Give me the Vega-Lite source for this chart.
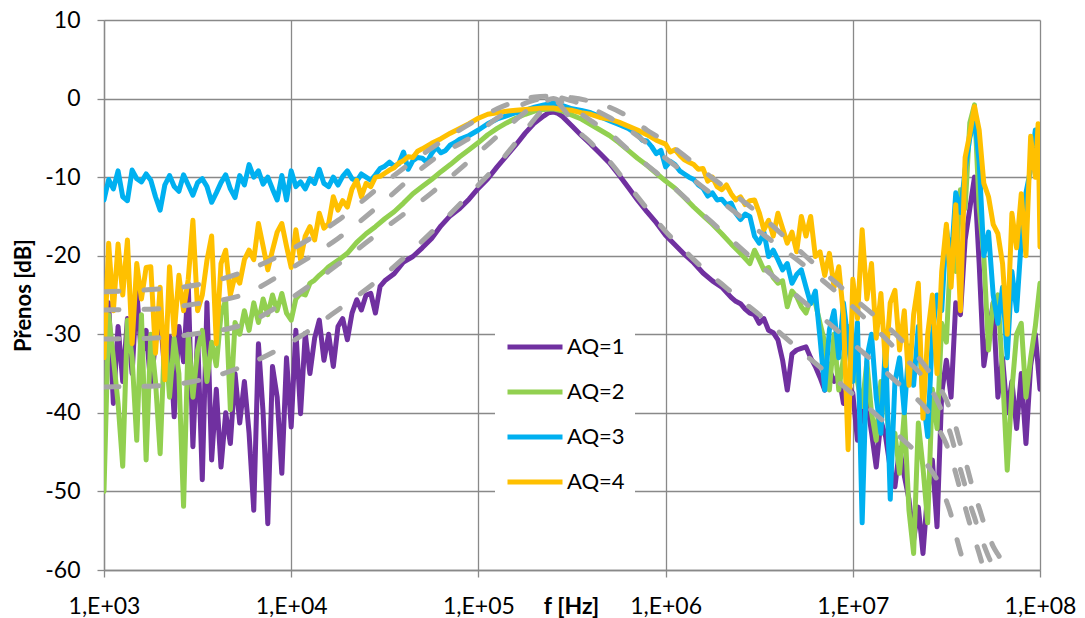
{
"$schema": "https://vega.github.io/schema/vega-lite/v6.json",
"width": 936, "height": 550,
"autosize": {"type": "none"},
"padding": {"left": 104, "top": 20, "right": 45, "bottom": 48},
"background": "white",
"config": {"view": {"stroke": null}, "font": "Lato"},
"datasets": {
"aq1": [{"f":1e3,"db":-33},{"f":1.059e3,"db":-26},{"f":1.122e3,"db":-38.8},{"f":1.189e3,"db":-29},{"f":1.259e3,"db":-36},{"f":1.334e3,"db":-28},{"f":1.413e3,"db":-35},{"f":1.496e3,"db":-24.4},{"f":1.585e3,"db":-33},{"f":1.679e3,"db":-29.5},{"f":1.778e3,"db":-36.5},{"f":1.884e3,"db":-31},{"f":1.995e3,"db":-27.5},{"f":2.113e3,"db":-35},{"f":2.239e3,"db":-30.3},{"f":2.371e3,"db":-40.5},{"f":2.512e3,"db":-29},{"f":2.661e3,"db":-33.5},{"f":2.818e3,"db":-23.5},{"f":2.985e3,"db":-44.3},{"f":3.162e3,"db":-30},{"f":3.35e3,"db":-48.5},{"f":3.548e3,"db":-26},{"f":3.758e3,"db":-46},{"f":3.981e3,"db":-37},{"f":4.217e3,"db":-46.9},{"f":4.467e3,"db":-40},{"f":4.732e3,"db":-43.9},{"f":5.012e3,"db":-35},{"f":5.309e3,"db":-41.3},{"f":5.623e3,"db":-36},{"f":5.957e3,"db":-42.6},{"f":6.31e3,"db":-52.4},{"f":6.683e3,"db":-31.2},{"f":7.079e3,"db":-40},{"f":7.499e3,"db":-54.1},{"f":7.943e3,"db":-34.1},{"f":8.414e3,"db":-38},{"f":8.913e3,"db":-47.7},{"f":9.441e3,"db":-33},{"f":1e4,"db":-41.8},{"f":1.059e4,"db":-29.5},{"f":1.122e4,"db":-40.1},{"f":1.189e4,"db":-29.9},{"f":1.259e4,"db":-35},{"f":1.334e4,"db":-30.5},{"f":1.413e4,"db":-28.2},{"f":1.496e4,"db":-33.3},{"f":1.585e4,"db":-30},{"f":1.679e4,"db":-34.1},{"f":1.778e4,"db":-29},{"f":1.884e4,"db":-28},{"f":1.995e4,"db":-30.7},{"f":2.113e4,"db":-27.3},{"f":2.239e4,"db":-25.6},{"f":2.371e4,"db":-26.9},{"f":2.512e4,"db":-25},{"f":2.661e4,"db":-24.8},{"f":2.818e4,"db":-27.3},{"f":2.985e4,"db":-23.9},{"f":3.162e4,"db":-23.2},{"f":3.548e4,"db":-22.3},{"f":3.981e4,"db":-20.8},{"f":4.467e4,"db":-20.1},{"f":5.012e4,"db":-19},{"f":5.623e4,"db":-17.8},{"f":6.31e4,"db":-16.2},{"f":7.079e4,"db":-14.9},{"f":7.943e4,"db":-14},{"f":8.913e4,"db":-12.8},{"f":1e5,"db":-11.4},{"f":1.122e5,"db":-10.2},{"f":1.259e5,"db":-8.7},{"f":1.413e5,"db":-7.3},{"f":1.585e5,"db":-5.9},{"f":1.778e5,"db":-4.4},{"f":1.995e5,"db":-3.1},{"f":2.239e5,"db":-2.2},{"f":2.371e5,"db":-1.8},{"f":2.512e5,"db":-1.7},{"f":2.661e5,"db":-1.9},{"f":2.818e5,"db":-2.3},{"f":3.162e5,"db":-3.5},{"f":3.548e5,"db":-4.7},{"f":3.981e5,"db":-5.8},{"f":4.467e5,"db":-7},{"f":5.012e5,"db":-8.2},{"f":5.623e5,"db":-9.7},{"f":6.31e5,"db":-11.3},{"f":7.079e5,"db":-12.9},{"f":7.943e5,"db":-14.4},{"f":8.913e5,"db":-15.8},{"f":1e6,"db":-17.4},{"f":1.122e6,"db":-18.6},{"f":1.259e6,"db":-19.8},{"f":1.413e6,"db":-20.9},{"f":1.585e6,"db":-22.2},{"f":1.778e6,"db":-23.2},{"f":1.995e6,"db":-24},{"f":2.239e6,"db":-25.3},{"f":2.371e6,"db":-25.8},{"f":2.512e6,"db":-26.1},{"f":2.661e6,"db":-26.8},{"f":2.818e6,"db":-27.3},{"f":2.985e6,"db":-27.5},{"f":3.162e6,"db":-28.6},{"f":3.35e6,"db":-28},{"f":3.548e6,"db":-29.5},{"f":3.758e6,"db":-29.8},{"f":3.981e6,"db":-30.7},{"f":4.217e6,"db":-33.3},{"f":4.467e6,"db":-37.1},{"f":4.732e6,"db":-32.5},{"f":5.012e6,"db":-32},{"f":5.309e6,"db":-31.8},{"f":5.623e6,"db":-31.6},{"f":5.957e6,"db":-33},{"f":6.31e6,"db":-34.1},{"f":6.683e6,"db":-35.5},{"f":7.079e6,"db":-37.1},{"f":7.499e6,"db":-34.5},{"f":7.943e6,"db":-36},{"f":8.414e6,"db":-35.2},{"f":8.913e6,"db":-38.8},{"f":9.441e6,"db":-36.5},{"f":1e7,"db":-37.5},{"f":1.059e7,"db":-43.5},{"f":1.122e7,"db":-40},{"f":1.189e7,"db":-38.5},{"f":1.259e7,"db":-42.5},{"f":1.334e7,"db":-46.9},{"f":1.413e7,"db":-41},{"f":1.496e7,"db":-43},{"f":1.585e7,"db":-47},{"f":1.679e7,"db":-49.4},{"f":1.778e7,"db":-44.5},{"f":1.884e7,"db":-48},{"f":1.995e7,"db":-51},{"f":2.113e7,"db":-56.2},{"f":2.239e7,"db":-52},{"f":2.371e7,"db":-57.9},{"f":2.512e7,"db":-50},{"f":2.661e7,"db":-46},{"f":2.818e7,"db":-54.5},{"f":2.985e7,"db":-37.5},{"f":3.162e7,"db":-33.3},{"f":3.35e7,"db":-38},{"f":3.548e7,"db":-26},{"f":3.758e7,"db":-27.5},{"f":3.981e7,"db":-18},{"f":4.217e7,"db":-14},{"f":4.467e7,"db":-10},{"f":4.732e7,"db":-21},{"f":5.012e7,"db":-34},{"f":5.309e7,"db":-30},{"f":5.623e7,"db":-26},{"f":5.957e7,"db":-38},{"f":6.31e7,"db":-33},{"f":6.683e7,"db":-40},{"f":7.079e7,"db":-36},{"f":7.499e7,"db":-42},{"f":7.943e7,"db":-35},{"f":8.414e7,"db":-43.9},{"f":8.913e7,"db":-34},{"f":9.441e7,"db":-30},{"f":1e8,"db":-37}],
"aq2": [{"f":1e3,"db":-50},{"f":1.059e3,"db":-27.5},{"f":1.122e3,"db":-33},{"f":1.189e3,"db":-38.8},{"f":1.259e3,"db":-46.8},{"f":1.334e3,"db":-28.2},{"f":1.413e3,"db":-33},{"f":1.496e3,"db":-43.5},{"f":1.585e3,"db":-27.5},{"f":1.679e3,"db":-46},{"f":1.778e3,"db":-30},{"f":1.884e3,"db":-36},{"f":1.995e3,"db":-45.2},{"f":2.113e3,"db":-29.5},{"f":2.239e3,"db":-38},{"f":2.371e3,"db":-30.5},{"f":2.512e3,"db":-35},{"f":2.661e3,"db":-51.9},{"f":2.818e3,"db":-30},{"f":2.985e3,"db":-38},{"f":3.162e3,"db":-32},{"f":3.35e3,"db":-29.5},{"f":3.548e3,"db":-36},{"f":3.758e3,"db":-31},{"f":3.981e3,"db":-34},{"f":4.217e3,"db":-27.5},{"f":4.467e3,"db":-25.6},{"f":4.732e3,"db":-39.6},{"f":5.012e3,"db":-28.5},{"f":5.309e3,"db":-30},{"f":5.623e3,"db":-27},{"f":5.957e3,"db":-29.5},{"f":6.31e3,"db":-26},{"f":6.683e3,"db":-28.5},{"f":7.079e3,"db":-25.5},{"f":7.499e3,"db":-27.5},{"f":7.943e3,"db":-25},{"f":8.414e3,"db":-27},{"f":8.913e3,"db":-24.8},{"f":9.441e3,"db":-27.3},{"f":1e4,"db":-28.2},{"f":1.059e4,"db":-25.5},{"f":1.122e4,"db":-24.8},{"f":1.189e4,"db":-25},{"f":1.259e4,"db":-23.5},{"f":1.334e4,"db":-23.1},{"f":1.413e4,"db":-22.5},{"f":1.496e4,"db":-22},{"f":1.585e4,"db":-21.4},{"f":1.778e4,"db":-20.6},{"f":1.995e4,"db":-19.7},{"f":2.239e4,"db":-18.3},{"f":2.512e4,"db":-17.2},{"f":2.818e4,"db":-16.3},{"f":3.162e4,"db":-15.3},{"f":3.548e4,"db":-14.4},{"f":3.981e4,"db":-13.3},{"f":4.467e4,"db":-12.1},{"f":5.012e4,"db":-11.2},{"f":5.623e4,"db":-10.3},{"f":6.31e4,"db":-9.3},{"f":7.079e4,"db":-8.4},{"f":7.943e4,"db":-7.4},{"f":8.913e4,"db":-6.5},{"f":1e5,"db":-5.6},{"f":1.122e5,"db":-4.6},{"f":1.259e5,"db":-3.8},{"f":1.413e5,"db":-3.1},{"f":1.585e5,"db":-2.5},{"f":1.778e5,"db":-2},{"f":1.995e5,"db":-1.6},{"f":2.239e5,"db":-1.4},{"f":2.512e5,"db":-1.3},{"f":2.818e5,"db":-1.6},{"f":3.162e5,"db":-2.1},{"f":3.548e5,"db":-2.6},{"f":3.981e5,"db":-3.3},{"f":4.467e5,"db":-4},{"f":5.012e5,"db":-4.7},{"f":5.623e5,"db":-5.6},{"f":6.31e5,"db":-6.6},{"f":7.079e5,"db":-7.6},{"f":7.943e5,"db":-8.5},{"f":8.913e5,"db":-9.5},{"f":1e6,"db":-10.5},{"f":1.122e6,"db":-11.4},{"f":1.259e6,"db":-12.6},{"f":1.413e6,"db":-13.8},{"f":1.585e6,"db":-14.9},{"f":1.778e6,"db":-16},{"f":1.995e6,"db":-17.2},{"f":2.239e6,"db":-18.5},{"f":2.512e6,"db":-19.7},{"f":2.818e6,"db":-21},{"f":2.985e6,"db":-19.3},{"f":3.162e6,"db":-20.5},{"f":3.35e6,"db":-21.8},{"f":3.548e6,"db":-21.5},{"f":3.758e6,"db":-22.8},{"f":3.981e6,"db":-23.5},{"f":4.217e6,"db":-23.2},{"f":4.467e6,"db":-26.5},{"f":4.732e6,"db":-24.5},{"f":5.012e6,"db":-25.2},{"f":5.309e6,"db":-26.5},{"f":5.623e6,"db":-27.3},{"f":5.957e6,"db":-25.5},{"f":6.31e6,"db":-26},{"f":6.683e6,"db":-28.6},{"f":7.079e6,"db":-31},{"f":7.499e6,"db":-37.1},{"f":7.943e6,"db":-30},{"f":8.414e6,"db":-37.1},{"f":8.913e6,"db":-33},{"f":9.441e6,"db":-29},{"f":1e7,"db":-32.8},{"f":1.059e7,"db":-36},{"f":1.122e7,"db":-39.2},{"f":1.189e7,"db":-33.5},{"f":1.259e7,"db":-40},{"f":1.334e7,"db":-43.5},{"f":1.413e7,"db":-36},{"f":1.496e7,"db":-38.5},{"f":1.585e7,"db":-44},{"f":1.679e7,"db":-42.6},{"f":1.778e7,"db":-47.7},{"f":1.884e7,"db":-40},{"f":1.995e7,"db":-52.4},{"f":2.113e7,"db":-57.9},{"f":2.239e7,"db":-41.3},{"f":2.371e7,"db":-47},{"f":2.512e7,"db":-54},{"f":2.661e7,"db":-37},{"f":2.818e7,"db":-42},{"f":2.985e7,"db":-28.6},{"f":3.162e7,"db":-31},{"f":3.35e7,"db":-18},{"f":3.548e7,"db":-22},{"f":3.758e7,"db":-11.6},{"f":3.981e7,"db":-14},{"f":4.217e7,"db":-3.1},{"f":4.467e7,"db":-0.8},{"f":4.732e7,"db":-13.8},{"f":5.012e7,"db":-20.1},{"f":5.309e7,"db":-32},{"f":5.623e7,"db":-26},{"f":5.957e7,"db":-25},{"f":6.31e7,"db":-35},{"f":6.683e7,"db":-47.3},{"f":7.079e7,"db":-37.1},{"f":7.499e7,"db":-30},{"f":7.943e7,"db":-28.6},{"f":8.414e7,"db":-38},{"f":8.913e7,"db":-33},{"f":9.441e7,"db":-29},{"f":1e8,"db":-23.5}],
"aq3": [{"f":1e3,"db":-12.9},{"f":1.059e3,"db":-10.3},{"f":1.122e3,"db":-11.5},{"f":1.189e3,"db":-9.2},{"f":1.259e3,"db":-12.5},{"f":1.334e3,"db":-13},{"f":1.413e3,"db":-9.1},{"f":1.496e3,"db":-10.2},{"f":1.585e3,"db":-10.6},{"f":1.679e3,"db":-9.6},{"f":1.778e3,"db":-10.4},{"f":1.884e3,"db":-12.5},{"f":1.995e3,"db":-14.2},{"f":2.113e3,"db":-11},{"f":2.239e3,"db":-9.8},{"f":2.371e3,"db":-11.2},{"f":2.512e3,"db":-11.8},{"f":2.661e3,"db":-9.7},{"f":2.818e3,"db":-11},{"f":2.985e3,"db":-12.3},{"f":3.162e3,"db":-10.7},{"f":3.35e3,"db":-10.2},{"f":3.548e3,"db":-11.2},{"f":3.758e3,"db":-13.2},{"f":3.981e3,"db":-12},{"f":4.217e3,"db":-10.7},{"f":4.467e3,"db":-9.7},{"f":4.732e3,"db":-11.5},{"f":5.012e3,"db":-12.6},{"f":5.309e3,"db":-9.8},{"f":5.623e3,"db":-11},{"f":5.957e3,"db":-8.4},{"f":6.31e3,"db":-10},{"f":6.683e3,"db":-9.2},{"f":7.079e3,"db":-10.9},{"f":7.499e3,"db":-10},{"f":7.943e3,"db":-11.5},{"f":8.414e3,"db":-12.9},{"f":8.913e3,"db":-9.8},{"f":9.441e3,"db":-12.9},{"f":1e4,"db":-9.2},{"f":1.059e4,"db":-11.2},{"f":1.122e4,"db":-10.6},{"f":1.189e4,"db":-11.5},{"f":1.259e4,"db":-10.2},{"f":1.334e4,"db":-10.8},{"f":1.413e4,"db":-9},{"f":1.496e4,"db":-10.8},{"f":1.585e4,"db":-11.2},{"f":1.679e4,"db":-10},{"f":1.778e4,"db":-11},{"f":1.884e4,"db":-9.9},{"f":1.995e4,"db":-9.2},{"f":2.113e4,"db":-10.2},{"f":2.239e4,"db":-10.5},{"f":2.371e4,"db":-9.6},{"f":2.512e4,"db":-10},{"f":2.661e4,"db":-10.4},{"f":2.818e4,"db":-9.7},{"f":2.985e4,"db":-8.9},{"f":3.162e4,"db":-8.6},{"f":3.35e4,"db":-8.1},{"f":3.548e4,"db":-8.6},{"f":3.758e4,"db":-8.3},{"f":3.981e4,"db":-6.8},{"f":4.217e4,"db":-9},{"f":4.467e4,"db":-7.9},{"f":4.732e4,"db":-7.5},{"f":5.012e4,"db":-7.6},{"f":5.309e4,"db":-8.1},{"f":5.623e4,"db":-7},{"f":5.957e4,"db":-6.2},{"f":6.31e4,"db":-6.9},{"f":6.683e4,"db":-6.6},{"f":7.079e4,"db":-5.9},{"f":7.499e4,"db":-5.6},{"f":7.943e4,"db":-5.2},{"f":8.913e4,"db":-4.7},{"f":1e5,"db":-4},{"f":1.122e5,"db":-3.2},{"f":1.259e5,"db":-2.6},{"f":1.413e5,"db":-2.2},{"f":1.585e5,"db":-1.8},{"f":1.778e5,"db":-1.5},{"f":1.995e5,"db":-1.1},{"f":2.239e5,"db":-0.8},{"f":2.512e5,"db":-0.6},{"f":2.818e5,"db":-0.9},{"f":3.162e5,"db":-1.3},{"f":3.548e5,"db":-1.5},{"f":3.981e5,"db":-1.8},{"f":4.467e5,"db":-2.3},{"f":5.012e5,"db":-2.8},{"f":5.623e5,"db":-3.3},{"f":6.31e5,"db":-3.8},{"f":7.079e5,"db":-4.6},{"f":7.499e5,"db":-5.3},{"f":7.943e5,"db":-5.4},{"f":8.414e5,"db":-6.1},{"f":8.913e5,"db":-7},{"f":9.441e5,"db":-6.6},{"f":1e6,"db":-8.7},{"f":1.059e6,"db":-8},{"f":1.122e6,"db":-8.4},{"f":1.189e6,"db":-9.2},{"f":1.259e6,"db":-9.6},{"f":1.334e6,"db":-10},{"f":1.413e6,"db":-10.3},{"f":1.496e6,"db":-11},{"f":1.585e6,"db":-11.4},{"f":1.679e6,"db":-12.4},{"f":1.778e6,"db":-12},{"f":1.884e6,"db":-12.9},{"f":1.995e6,"db":-12.8},{"f":2.113e6,"db":-13.5},{"f":2.239e6,"db":-13.3},{"f":2.371e6,"db":-14.6},{"f":2.512e6,"db":-15.4},{"f":2.661e6,"db":-14.7},{"f":2.818e6,"db":-15},{"f":2.985e6,"db":-17.5},{"f":3.162e6,"db":-18.4},{"f":3.35e6,"db":-17},{"f":3.548e6,"db":-20.1},{"f":3.758e6,"db":-19.3},{"f":3.981e6,"db":-20.5},{"f":4.217e6,"db":-21.8},{"f":4.467e6,"db":-21},{"f":4.732e6,"db":-23.5},{"f":5.012e6,"db":-22.4},{"f":5.309e6,"db":-21.8},{"f":5.623e6,"db":-24},{"f":5.957e6,"db":-26.1},{"f":6.31e6,"db":-24.5},{"f":6.683e6,"db":-30.5},{"f":7.079e6,"db":-37.1},{"f":7.499e6,"db":-29.4},{"f":7.943e6,"db":-27},{"f":8.414e6,"db":-33},{"f":8.913e6,"db":-26},{"f":9.441e6,"db":-31},{"f":1e7,"db":-36},{"f":1.059e7,"db":-28.5},{"f":1.122e7,"db":-54},{"f":1.189e7,"db":-33},{"f":1.259e7,"db":-30},{"f":1.334e7,"db":-38},{"f":1.413e7,"db":-42.6},{"f":1.496e7,"db":-31},{"f":1.585e7,"db":-51},{"f":1.679e7,"db":-36},{"f":1.778e7,"db":-33},{"f":1.884e7,"db":-40},{"f":1.995e7,"db":-31.5},{"f":2.113e7,"db":-36.5},{"f":2.239e7,"db":-29},{"f":2.371e7,"db":-38},{"f":2.512e7,"db":-43},{"f":2.661e7,"db":-30},{"f":2.818e7,"db":-25},{"f":2.985e7,"db":-27},{"f":3.162e7,"db":-16.5},{"f":3.35e7,"db":-21},{"f":3.548e7,"db":-12},{"f":3.758e7,"db":-14.5},{"f":3.981e7,"db":-9},{"f":4.217e7,"db":-5},{"f":4.467e7,"db":-2.5},{"f":4.732e7,"db":-8},{"f":5.012e7,"db":-20},{"f":5.309e7,"db":-17},{"f":5.623e7,"db":-25},{"f":5.957e7,"db":-28.6},{"f":6.31e7,"db":-24},{"f":6.683e7,"db":-33},{"f":7.079e7,"db":-22},{"f":7.499e7,"db":-27},{"f":7.943e7,"db":-18},{"f":8.414e7,"db":-12},{"f":8.913e7,"db":-9},{"f":9.441e7,"db":-4},{"f":1e8,"db":-8.5}],
"aq4": [{"f":1e3,"db":-33},{"f":1.059e3,"db":-18.4},{"f":1.122e3,"db":-27},{"f":1.189e3,"db":-18.5},{"f":1.259e3,"db":-25},{"f":1.334e3,"db":-18},{"f":1.413e3,"db":-31.2},{"f":1.496e3,"db":-21},{"f":1.585e3,"db":-25.5},{"f":1.679e3,"db":-21.5},{"f":1.778e3,"db":-21.4},{"f":1.884e3,"db":-32.4},{"f":1.995e3,"db":-24},{"f":2.113e3,"db":-35.8},{"f":2.239e3,"db":-21.4},{"f":2.371e3,"db":-30},{"f":2.512e3,"db":-22.5},{"f":2.661e3,"db":-27},{"f":2.818e3,"db":-23},{"f":2.985e3,"db":-15.5},{"f":3.162e3,"db":-27},{"f":3.35e3,"db":-25},{"f":3.548e3,"db":-20.6},{"f":3.758e3,"db":-17.5},{"f":3.981e3,"db":-31.2},{"f":4.217e3,"db":-21},{"f":4.467e3,"db":-19.3},{"f":4.732e3,"db":-25},{"f":5.012e3,"db":-22.5},{"f":5.309e3,"db":-23.5},{"f":5.623e3,"db":-20.5},{"f":5.957e3,"db":-19.3},{"f":6.31e3,"db":-20.5},{"f":6.683e3,"db":-15.9},{"f":7.079e3,"db":-18.8},{"f":7.499e3,"db":-21.8},{"f":7.943e3,"db":-19.3},{"f":8.414e3,"db":-17},{"f":8.913e3,"db":-15.9},{"f":9.441e3,"db":-18.8},{"f":1e4,"db":-21.5},{"f":1.059e4,"db":-16.7},{"f":1.122e4,"db":-20.5},{"f":1.189e4,"db":-17.5},{"f":1.259e4,"db":-16.3},{"f":1.334e4,"db":-18},{"f":1.413e4,"db":-14.6},{"f":1.496e4,"db":-16.5},{"f":1.585e4,"db":-15.9},{"f":1.679e4,"db":-12.5},{"f":1.778e4,"db":-14.2},{"f":1.884e4,"db":-13},{"f":1.995e4,"db":-13.8},{"f":2.113e4,"db":-11.5},{"f":2.239e4,"db":-10.4},{"f":2.371e4,"db":-12.5},{"f":2.512e4,"db":-10.8},{"f":2.661e4,"db":-11.2},{"f":2.818e4,"db":-10},{"f":2.985e4,"db":-9.9},{"f":3.162e4,"db":-9.5},{"f":3.35e4,"db":-9.1},{"f":3.548e4,"db":-8.8},{"f":3.758e4,"db":-8.2},{"f":3.981e4,"db":-7.9},{"f":4.217e4,"db":-7.4},{"f":4.467e4,"db":-7.5},{"f":4.732e4,"db":-6.7},{"f":5.012e4,"db":-6.4},{"f":5.623e4,"db":-5.7},{"f":6.31e4,"db":-5.1},{"f":7.079e4,"db":-4.4},{"f":7.943e4,"db":-3.8},{"f":8.913e4,"db":-3.2},{"f":1e5,"db":-2.5},{"f":1.122e5,"db":-2},{"f":1.259e5,"db":-1.8},{"f":1.413e5,"db":-1.6},{"f":1.585e5,"db":-1.5},{"f":1.778e5,"db":-1.4},{"f":1.995e5,"db":-1.3},{"f":2.239e5,"db":-1.2},{"f":2.512e5,"db":-1.2},{"f":2.818e5,"db":-1.4},{"f":3.162e5,"db":-1.5},{"f":3.548e5,"db":-1.8},{"f":3.981e5,"db":-2},{"f":4.467e5,"db":-2.4},{"f":5.012e5,"db":-2.6},{"f":5.623e5,"db":-3},{"f":6.31e5,"db":-3.5},{"f":7.079e5,"db":-4},{"f":7.943e5,"db":-4.6},{"f":8.913e5,"db":-5.3},{"f":1e6,"db":-5.8},{"f":1.059e6,"db":-6.8},{"f":1.122e6,"db":-6.5},{"f":1.189e6,"db":-7.2},{"f":1.259e6,"db":-7.8},{"f":1.334e6,"db":-8.1},{"f":1.413e6,"db":-8.4},{"f":1.496e6,"db":-9},{"f":1.585e6,"db":-8.9},{"f":1.679e6,"db":-10.5},{"f":1.778e6,"db":-10},{"f":1.884e6,"db":-11.2},{"f":1.995e6,"db":-11.6},{"f":2.113e6,"db":-11},{"f":2.239e6,"db":-12.1},{"f":2.371e6,"db":-12.9},{"f":2.512e6,"db":-12.5},{"f":2.661e6,"db":-13.5},{"f":2.818e6,"db":-13},{"f":2.985e6,"db":-12.9},{"f":3.162e6,"db":-14.5},{"f":3.35e6,"db":-16.7},{"f":3.548e6,"db":-15.5},{"f":3.758e6,"db":-17.5},{"f":3.981e6,"db":-14.6},{"f":4.217e6,"db":-16.5},{"f":4.467e6,"db":-18.4},{"f":4.732e6,"db":-17},{"f":5.012e6,"db":-19.5},{"f":5.309e6,"db":-15},{"f":5.623e6,"db":-17.5},{"f":5.957e6,"db":-15},{"f":6.31e6,"db":-20.1},{"f":6.683e6,"db":-19.5},{"f":7.079e6,"db":-22.5},{"f":7.499e6,"db":-19.7},{"f":7.943e6,"db":-24},{"f":8.414e6,"db":-21.4},{"f":8.913e6,"db":-27.5},{"f":9.441e6,"db":-44.7},{"f":1e7,"db":-23},{"f":1.059e7,"db":-28},{"f":1.122e7,"db":-16.7},{"f":1.189e7,"db":-25.5},{"f":1.259e7,"db":-21},{"f":1.334e7,"db":-30.5},{"f":1.413e7,"db":-24.8},{"f":1.496e7,"db":-34},{"f":1.585e7,"db":-26},{"f":1.679e7,"db":-24.4},{"f":1.778e7,"db":-32},{"f":1.884e7,"db":-27},{"f":1.995e7,"db":-36.5},{"f":2.113e7,"db":-27.5},{"f":2.239e7,"db":-23.5},{"f":2.371e7,"db":-40.7},{"f":2.512e7,"db":-30},{"f":2.661e7,"db":-25},{"f":2.818e7,"db":-35},{"f":2.985e7,"db":-22},{"f":3.162e7,"db":-16},{"f":3.35e7,"db":-24},{"f":3.548e7,"db":-13.5},{"f":3.758e7,"db":-27},{"f":3.981e7,"db":-7.5},{"f":4.217e7,"db":-4.5},{"f":4.467e7,"db":-1},{"f":4.732e7,"db":-4},{"f":5.012e7,"db":-10.8},{"f":5.309e7,"db":-12.5},{"f":5.623e7,"db":-16},{"f":5.957e7,"db":-17.2},{"f":6.31e7,"db":-21},{"f":6.683e7,"db":-30},{"f":7.079e7,"db":-14.6},{"f":7.499e7,"db":-19},{"f":7.943e7,"db":-12.1},{"f":8.414e7,"db":-20},{"f":8.913e7,"db":-4.8},{"f":9.441e7,"db":-10},{"f":9.772e7,"db":-3.2},{"f":1e8,"db":-18.9}],
"theory": [{"c":"D1","f":1e3,"db":-36.7},{"c":"D1","f":1.778e3,"db":-36.6},{"c":"D1","f":3.162e3,"db":-35.9},{"c":"D1","f":5.623e3,"db":-34},{"c":"D1","f":1e4,"db":-31},{"c":"D1","f":1.778e4,"db":-26.9},{"c":"D1","f":3.162e4,"db":-22.4},{"c":"D1","f":5.623e4,"db":-17},{"c":"D1","f":1e5,"db":-11},{"c":"D1","f":1.259e5,"db":-8.5},{"c":"D1","f":1.585e5,"db":-5.6},{"c":"D1","f":1.778e5,"db":-4.1},{"c":"D1","f":1.995e5,"db":-2.6},{"c":"D1","f":2.239e5,"db":-1.2},{"c":"D1","f":2.371e5,"db":-0.6},{"c":"D1","f":2.512e5,"db":-0.2},{"c":"D1","f":2.661e5,"db":-0.5},{"c":"D1","f":2.818e5,"db":-1.2},{"c":"D1","f":2.985e5,"db":-2},{"c":"D1","f":3.162e5,"db":-3.1},{"c":"D1","f":3.981e5,"db":-5.6},{"c":"D1","f":5.012e5,"db":-8},{"c":"D1","f":6.31e5,"db":-11},{"c":"D1","f":7.943e5,"db":-14},{"c":"D1","f":1e6,"db":-16.9},{"c":"D1","f":1.259e6,"db":-19.3},{"c":"D1","f":1.585e6,"db":-21.6},{"c":"D1","f":1.995e6,"db":-23.6},{"c":"D1","f":2.512e6,"db":-25.6},{"c":"D1","f":3.162e6,"db":-27.5},{"c":"D1","f":3.981e6,"db":-29.6},{"c":"D1","f":5.623e6,"db":-32.7},{"c":"D1","f":1e7,"db":-37.6},{"c":"D1","f":1.259e7,"db":-39.7},{"c":"D1","f":1.778e7,"db":-43},{"c":"D1","f":2.512e7,"db":-46.7},{"c":"D1","f":2.818e7,"db":-48.5},{"c":"D1","f":3.162e7,"db":-51.2},{"c":"D1","f":3.35e7,"db":-53},{"c":"D1","f":3.548e7,"db":-55.5},{"c":"D1","f":3.758e7,"db":-57.7},{"c":"D1","f":3.981e7,"db":-59.6},{"c":"D1","f":4.217e7,"db":-61.5},
{"c":"D2","f":1e3,"db":-30.6},{"c":"D2","f":1.778e3,"db":-30.5},{"c":"D2","f":3.162e3,"db":-29.9},{"c":"D2","f":5.623e3,"db":-28.7},{"c":"D2","f":1e4,"db":-25.4},{"c":"D2","f":1.778e4,"db":-21.1},{"c":"D2","f":3.162e4,"db":-16.5},{"c":"D2","f":5.623e4,"db":-12},{"c":"D2","f":1e5,"db":-6.9},{"c":"D2","f":1.259e5,"db":-4.8},{"c":"D2","f":1.585e5,"db":-2.7},{"c":"D2","f":1.995e5,"db":-0.9},{"c":"D2","f":2.239e5,"db":-0.4},{"c":"D2","f":2.512e5,"db":0},{"c":"D2","f":2.818e5,"db":-0.5},{"c":"D2","f":3.162e5,"db":-1.2},{"c":"D2","f":3.981e5,"db":-2.8},{"c":"D2","f":5.012e5,"db":-4.4},{"c":"D2","f":6.31e5,"db":-6.5},{"c":"D2","f":1e6,"db":-10.4},{"c":"D2","f":1.778e6,"db":-15.8},{"c":"D2","f":3.162e6,"db":-21.1},{"c":"D2","f":5.623e6,"db":-26.1},{"c":"D2","f":1e7,"db":-31.2},{"c":"D2","f":1.778e7,"db":-36.4},{"c":"D2","f":2.512e7,"db":-39.8},{"c":"D2","f":2.818e7,"db":-41.7},{"c":"D2","f":3.162e7,"db":-44},{"c":"D2","f":3.35e7,"db":-45.6},{"c":"D2","f":3.548e7,"db":-47.7},{"c":"D2","f":3.758e7,"db":-49.9},{"c":"D2","f":3.981e7,"db":-52},{"c":"D2","f":4.217e7,"db":-54.1},{"c":"D2","f":4.467e7,"db":-56},{"c":"D2","f":4.732e7,"db":-57.9},{"c":"D2","f":5.012e7,"db":-59.9},{"c":"D2","f":5.309e7,"db":-61.8},
{"c":"D3","f":1e3,"db":-26.9},{"c":"D3","f":1.778e3,"db":-26.8},{"c":"D3","f":3.162e3,"db":-26.1},{"c":"D3","f":5.623e3,"db":-24.9},{"c":"D3","f":1e4,"db":-21.6},{"c":"D3","f":1.778e4,"db":-17.8},{"c":"D3","f":3.162e4,"db":-13},{"c":"D3","f":5.623e4,"db":-7.9},{"c":"D3","f":1e5,"db":-4.3},{"c":"D3","f":1.259e5,"db":-2.5},{"c":"D3","f":1.585e5,"db":-1.2},{"c":"D3","f":1.778e5,"db":-0.6},{"c":"D3","f":1.995e5,"db":-0.2},{"c":"D3","f":2.512e5,"db":0.2},{"c":"D3","f":3.162e5,"db":-0.3},{"c":"D3","f":3.981e5,"db":-1.2},{"c":"D3","f":5.012e5,"db":-2.4},{"c":"D3","f":6.31e5,"db":-3.9},{"c":"D3","f":1e6,"db":-7.6},{"c":"D3","f":1.778e6,"db":-12.2},{"c":"D3","f":3.162e6,"db":-16.9},{"c":"D3","f":5.623e6,"db":-21.4},{"c":"D3","f":1e7,"db":-26.5},{"c":"D3","f":1.778e7,"db":-32.4},{"c":"D3","f":2.512e7,"db":-36.3},{"c":"D3","f":2.818e7,"db":-38.4},{"c":"D3","f":3.162e7,"db":-41.2},{"c":"D3","f":3.35e7,"db":-42.9},{"c":"D3","f":3.548e7,"db":-45.1},{"c":"D3","f":3.758e7,"db":-47.2},{"c":"D3","f":3.981e7,"db":-49.3},{"c":"D3","f":4.217e7,"db":-51.5},{"c":"D3","f":4.467e7,"db":-53.3},{"c":"D3","f":4.732e7,"db":-55.2},{"c":"D3","f":5.012e7,"db":-56.8},{"c":"D3","f":5.309e7,"db":-58.3},{"c":"D3","f":5.623e7,"db":-59.6},{"c":"D3","f":5.957e7,"db":-61},
{"c":"D4","f":1e3,"db":-24.6},{"c":"D4","f":1.778e3,"db":-24.3},{"c":"D4","f":3.162e3,"db":-23.7},{"c":"D4","f":5.623e3,"db":-22},{"c":"D4","f":1e4,"db":-19.2},{"c":"D4","f":1.778e4,"db":-15.5},{"c":"D4","f":3.162e4,"db":-10.7},{"c":"D4","f":5.623e4,"db":-6.3},{"c":"D4","f":1e5,"db":-2.6},{"c":"D4","f":1.259e5,"db":-1.3},{"c":"D4","f":1.585e5,"db":-0.4},{"c":"D4","f":1.995e5,"db":0.2},{"c":"D4","f":2.512e5,"db":0.3},{"c":"D4","f":3.162e5,"db":0.1},{"c":"D4","f":3.981e5,"db":-0.35},{"c":"D4","f":5.012e5,"db":-1.1},{"c":"D4","f":6.31e5,"db":-2.3},{"c":"D4","f":7.943e5,"db":-4},{"c":"D4","f":1e6,"db":-5.5},{"c":"D4","f":1.778e6,"db":-10.1},{"c":"D4","f":3.162e6,"db":-14.7},{"c":"D4","f":5.623e6,"db":-20.1},{"c":"D4","f":1e7,"db":-25.3},{"c":"D4","f":1.778e7,"db":-30.5},{"c":"D4","f":2.512e7,"db":-34.5},{"c":"D4","f":2.818e7,"db":-36.3},{"c":"D4","f":3.162e7,"db":-38.4},{"c":"D4","f":3.35e7,"db":-40},{"c":"D4","f":3.548e7,"db":-41.8},{"c":"D4","f":3.758e7,"db":-44},{"c":"D4","f":3.981e7,"db":-46},{"c":"D4","f":4.217e7,"db":-48.2},{"c":"D4","f":4.467e7,"db":-50.4},{"c":"D4","f":4.732e7,"db":-52.1},{"c":"D4","f":5.012e7,"db":-54},{"c":"D4","f":5.309e7,"db":-55.5},{"c":"D4","f":5.623e7,"db":-57},{"c":"D4","f":5.957e7,"db":-58},{"c":"D4","f":6.31e7,"db":-59},{"c":"D4","f":6.683e7,"db":-60.1},{"c":"D4","f":7.079e7,"db":-61.2}]
},
"encoding": {
  "x": {"field": "f", "type": "quantitative",
    "scale": {"type": "log", "domain": [1000, 100000000], "nice": false},
    "axis": {"title": "f [Hz]", "values": [1000, 10000, 100000, 1000000, 10000000, 100000000],
      "labelExpr": "'1,E+0' + round(log(datum.value)/LN10)",
      "grid": true, "gridColor": "#898989", "gridWidth": 1.3,
      "domainColor": "#898989", "domainWidth": 1.3, "tickColor": "#898989", "tickWidth": 1.3, "tickSize": 7,
      "labelFont": "Lato", "labelFontSize": 23, "labelColor": "#000000", "labelBaseline": "alphabetic", "labelPadding": 36,
      "labelFlush": false, "labelOverlap": false,
      "titleFont": "Lato", "titleFontSize": 23, "titleFontWeight": "bold", "titleColor": "#000000",
      "titleX": 467, "titleY": 43, "titleBaseline": "alphabetic", "titleAlign": "center"}},
  "y": {"field": "db", "type": "quantitative",
    "scale": {"domain": [-60, 10], "nice": false, "zero": false},
    "axis": {"title": "Přenos [dB]", "values": [-60, -50, -40, -30, -20, -10, 0, 10],
      "labelExpr": "'' + datum.value",
      "grid": true, "gridColor": "#898989", "gridWidth": 1.3,
      "domainColor": "#898989", "domainWidth": 1.3, "tickColor": "#898989", "tickWidth": 1.3, "tickSize": 7,
      "labelFont": "Lato", "labelFontSize": 23, "labelColor": "#000000", "labelPadding": 17,
      "titleFont": "Lato", "titleFontSize": 22, "titleFontWeight": "bold", "titleColor": "#000000",
      "titleX": -74, "titleY": 275, "titleBaseline": "alphabetic", "titleAlign": "center", "titleAngle": -90}}
},
"layer": [
  {"data": {"name": "aq1"},
   "mark": {"type": "line", "strokeWidth": 5, "strokeJoin": "round", "strokeCap": "round", "clip": true},
   "encoding": {"color": {"datum": "AQ=1", "type": "nominal",
     "scale": {"domain": ["AQ=1", "AQ=2", "AQ=3", "AQ=4"], "range": ["#7030A0", "#92D050", "#00B0F0", "#FFC000"]},
     "legend": {"title": null, "orient": "none", "legendX": 391, "legendY": 287, "fillColor": "white", "padding": 10,
       "symbolType": "stroke", "symbolSize": 3025, "symbolStrokeWidth": 5,
       "labelFont": "Lato", "labelFontSize": 22, "labelColor": "#000000", "labelOffset": 2, "rowPadding": 4}}}},
  {"data": {"name": "aq2"},
   "mark": {"type": "line", "strokeWidth": 5, "strokeJoin": "round", "strokeCap": "round", "clip": true},
   "encoding": {"color": {"datum": "AQ=2", "type": "nominal",
     "scale": {"domain": ["AQ=1", "AQ=2", "AQ=3", "AQ=4"], "range": ["#7030A0", "#92D050", "#00B0F0", "#FFC000"]}}}},
  {"data": {"name": "aq3"},
   "mark": {"type": "line", "strokeWidth": 5, "strokeJoin": "round", "strokeCap": "round", "clip": true},
   "encoding": {"color": {"datum": "AQ=3", "type": "nominal",
     "scale": {"domain": ["AQ=1", "AQ=2", "AQ=3", "AQ=4"], "range": ["#7030A0", "#92D050", "#00B0F0", "#FFC000"]}}}},
  {"data": {"name": "aq4"},
   "mark": {"type": "line", "strokeWidth": 5, "strokeJoin": "round", "strokeCap": "round", "clip": true},
   "encoding": {"color": {"datum": "AQ=4", "type": "nominal",
     "scale": {"domain": ["AQ=1", "AQ=2", "AQ=3", "AQ=4"], "range": ["#7030A0", "#92D050", "#00B0F0", "#FFC000"]}}}},
  {"data": {"name": "theory"},
   "mark": {"type": "line", "strokeWidth": 5, "strokeCap": "round", "strokeDash": [15, 25], "interpolate": "monotone", "clip": true, "color": "#A6A6A6"},
   "encoding": {"detail": {"field": "c", "type": "nominal"}}}
]
}
